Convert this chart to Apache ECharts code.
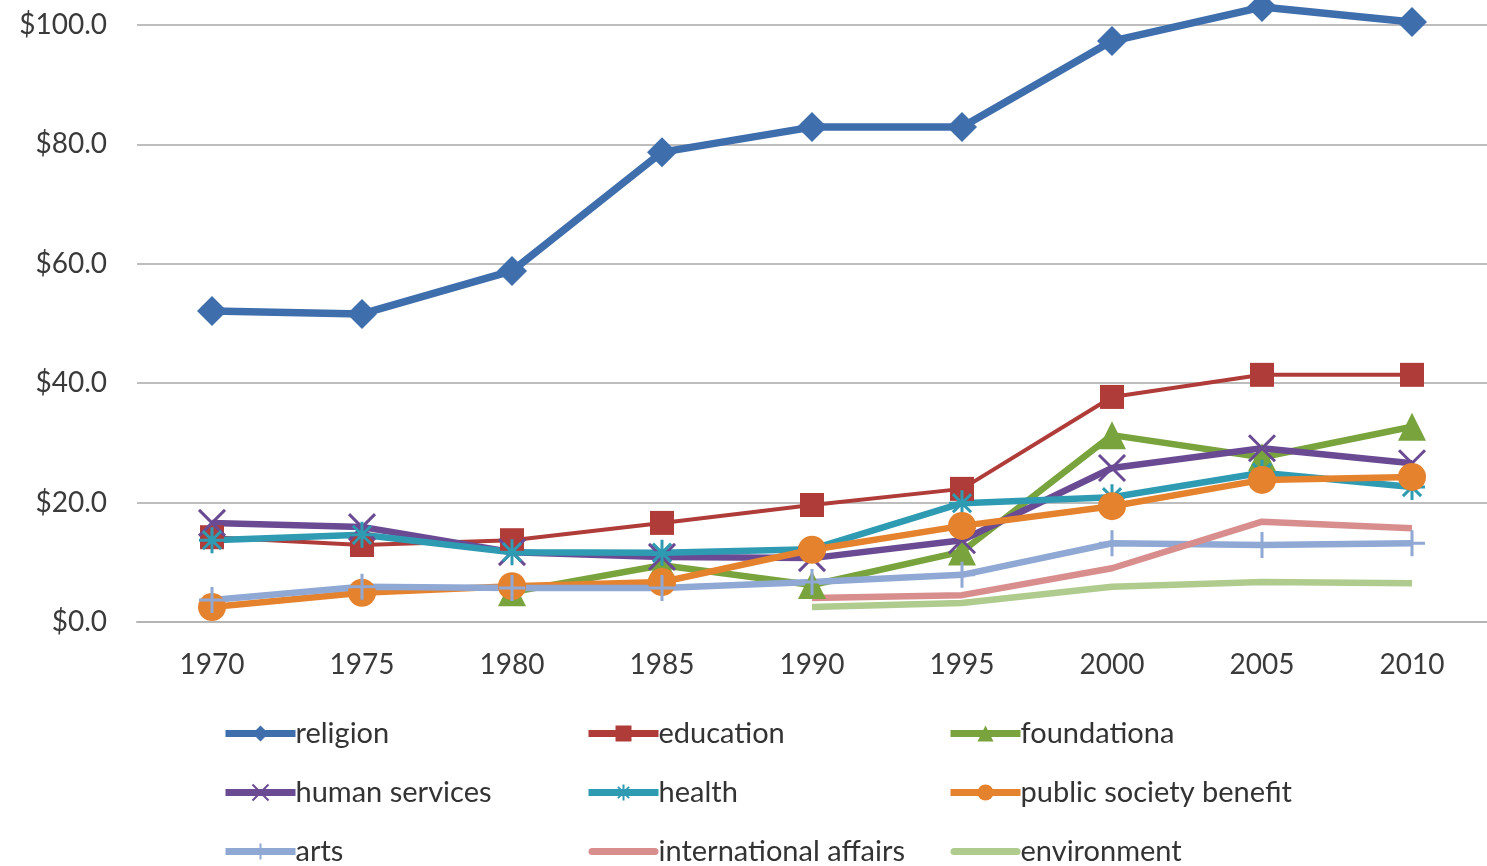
<!DOCTYPE html>
<html lang="en">
<head>
    <meta charset="UTF-8">
    <title>Giving by category, 1970-2010</title>
    <script src="https://cdn.jsdelivr.net/npm/echarts@6/dist/echarts.min.js"></script>
    <style>
        html, body { margin: 0; padding: 0; background: #fff; }
        #main { width: 1487px; height: 866px; }
    </style>
</head>
<body>
<div id="main"></div>
<script type="text/javascript">
    var years = ['1970', '1975', '1980', '1985', '1990', '1995', '2000', '2005', '2010'];

    // values (billions of dollars)
    var religion      = [52.1, 51.6, 58.8, 78.7, 82.9, 82.9, 97.3, 103.0, 100.5];
    var education     = [14.2, 12.9, 13.7, 16.6, 19.6, 22.3, 37.7, 41.4, 41.4];
    var foundationa   = [null, null, 5.0, 9.5, 6.2, 11.8, 31.3, 27.6, 32.7];
    var humanServices = [16.6, 15.9, 11.7, 10.9, 10.7, 13.7, 25.8, 29.1, 26.6];
    var health        = [13.7, 14.6, 11.7, 11.6, 12.2, 19.9, 20.9, 25.0, 22.6];
    var publicBenefit = [2.5, 4.9, 6.0, 6.7, 12.1, 16.1, 19.4, 23.8, 24.3];
    var arts          = [3.7, 5.9, 5.7, 5.7, 6.7, 7.9, 13.2, 12.9, 13.2];
    var intlAffairs   = [null, null, null, null, 4.0, 4.5, 9.0, 16.8, 15.7];
    var environment   = [null, null, null, null, 2.5, 3.2, 5.9, 6.7, 6.5];

    var yTicks = [0, 20, 40, 60, 80, 100];

    var myChart = echarts.init(document.getElementById('main'));

    var font = 'Lato, "Open Sans", sans-serif';

    // 符号路径
    var xMark = 'path://M0,0L10,10M10,0L0,10';
    var starMark = 'path://M5,0L5,10M0,5L10,5M1.5,1.5L8.5,8.5M8.5,1.5L1.5,8.5';
    var plusMark = 'path://M5,0L5,10M0,5L10,5';
    var barIcon = 'path://M3.5,0L66.5,0A3.5,3.5,0,0,1,66.5,7L3.5,7A3.5,3.5,0,0,1,3.5,0Z';

    function makeSeries(name, data, color, width, symbol, size, stroked) {
        return {
            name: name,
            type: 'line',
            data: data,
            clip: false,
            symbol: symbol,
            symbolSize: size,
            showSymbol: symbol !== 'none',
            lineStyle: { color: color, width: width },
            itemStyle: stroked
                ? { color: 'rgba(0,0,0,0)', borderColor: color, borderWidth: 3 }
                : { color: color, borderWidth: 0 },
            emphasis: { disabled: true }
        };
    }

    var series = [
        makeSeries('religion', religion, '#3F6EAD', 7.5, 'diamond', 30, false),
        makeSeries('education', education, '#B03C39', 4, 'rect', 24, false),
        makeSeries('foundationa', foundationa, '#78A33D', 6.5, 'triangle', 28, false),
        makeSeries('human services', humanServices, '#6A4A93', 6.5, xMark, 26, true),
        makeSeries('health', health, '#2E9BB2', 6.5, starMark, 26, true),
        makeSeries('public society benefit', publicBenefit, '#E5822E', 6.5, 'circle', 28, false),
        makeSeries('arts', arts, '#8FA8D4', 6.5, plusMark, 26, true),
        makeSeries('international affairs', intlAffairs, '#D98E8E', 6.5, 'none', 0, false),
        makeSeries('environment', environment, '#AFCC8E', 6.5, 'none', 0, false)
    ];

    function legendCol(left, names) {
        return {
            orient: 'vertical',
            left: left,
            top: 719,
            height: 220,
            padding: 0,
            itemWidth: 70,
            itemHeight: 20,
            itemGap: 30,
            data: names,
            selectedMode: false,
            lineStyle: { width: 7 },
            textStyle: { fontFamily: font, fontSize: 29, color: '#333', lineHeight: 26, padding: [0, 0, 0, -5] }
        };
    }

    var option = {
        animation: false,
        textStyle: { fontFamily: font },
        grid: { left: 137, right: 0, top: 25, bottom: 244 },
        legend: [
            legendCol(222, ['religion', 'human services', 'arts']),
            legendCol(585, ['education', 'health', { name: 'international affairs', icon: barIcon }]),
            legendCol(947, ['foundationa', 'public society benefit', { name: 'environment', icon: barIcon }])
        ],
        xAxis: {
            type: 'category',
            data: years,
            boundaryGap: true,
            axisLine: { lineStyle: { color: '#B5B5B5', width: 2 } },
            axisTick: { show: false },
            axisLabel: { fontFamily: font, fontSize: 28, color: '#3a3a3a', margin: 29 }
        },
        yAxis: {
            type: 'value',
            min: yTicks[0],
            max: yTicks[yTicks.length - 1],
            interval: 20,
            axisLine: { show: false },
            axisTick: { show: false },
            splitLine: { lineStyle: { color: '#BDBDBD', width: 2 } },
            axisLabel: {
                fontFamily: font, fontSize: 28, color: '#3a3a3a', margin: 30,
                formatter: function (v) { return '$' + v.toFixed(1); }
            }
        },
        series: series
    };

    myChart.setOption(option);
</script>
</body>
</html>
